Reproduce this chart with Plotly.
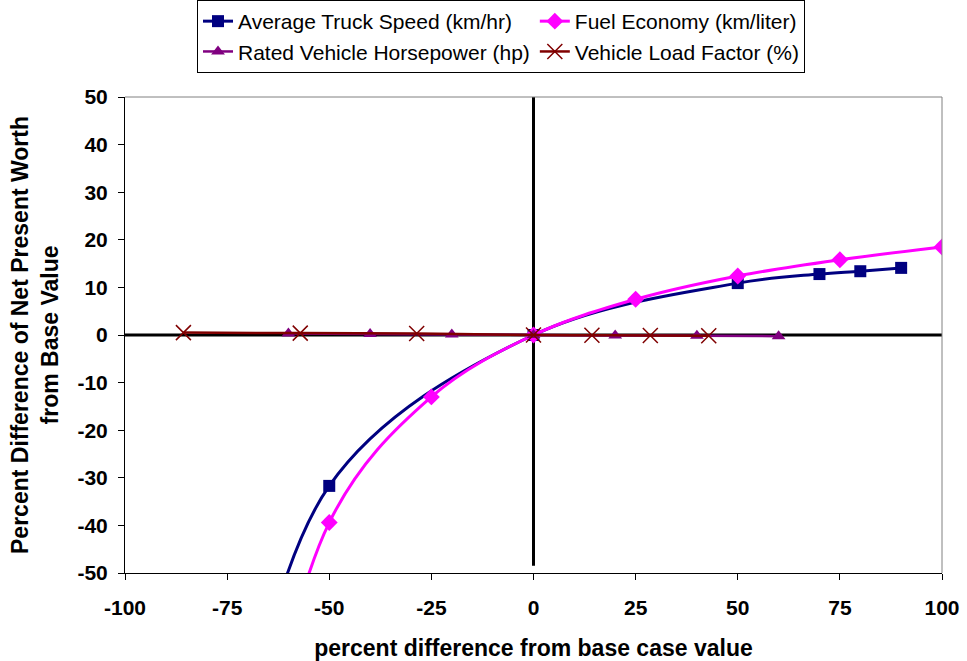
import plotly.graph_objects as go

# Sensitivity of net present worth to changes in each input
speed_x = [-75, -50, 0, 50, 70, 80, 90]
speed_y = [-105, -31.7, 0, 10.9, 12.8, 13.4, 14.1]

fuel_x = [-75, -50, -25, 0, 25, 50, 75, 100]
fuel_y = [-130, -39.4, -13.0, 0, 7.5, 12.4, 15.8, 18.5]

hp_x = [-60, -40, -20, 0, 20, 40, 60]
hp_y = [0.3, 0.2, 0.1, 0, -0.1, -0.15, -0.25]

load_x = [-85.7, -57.1, -28.6, 0, 14.3, 28.6, 42.9]
load_y = [0.5, 0.4, 0.3, 0, -0.05, -0.1, -0.15]

# Cross-hair lines through the base case
cross_h_x = [-100, 100]
cross_h_y = [0, 0]
cross_v_x = [0, 0]
cross_v_y = [50, -48.5]

x_ticks = [-100, -75, -50, -25, 0, 25, 50, 75, 100]
y_ticks = [50, 40, 30, 20, 10, 0, -10, -20, -30, -40, -50]

FONT = "Liberation Sans, Arial, sans-serif"

fig = go.Figure()

fig.add_trace(go.Scatter(x=cross_h_x, y=cross_h_y, mode="lines",
                         line=dict(color="black", width=3), showlegend=False,
                         hoverinfo="skip"))
fig.add_trace(go.Scatter(x=cross_v_x, y=cross_v_y, mode="lines",
                         line=dict(color="black", width=3), showlegend=False,
                         hoverinfo="skip"))

fig.add_trace(go.Scatter(
    x=speed_x, y=speed_y, name="Average Truck Speed (km/hr)",
    mode="lines+markers", line=dict(color="#000080", width=3, shape="spline"),
    marker=dict(symbol="square", size=12, color="#000080")))
fig.add_trace(go.Scatter(
    x=fuel_x, y=fuel_y, name="Fuel Economy (km/liter)",
    mode="lines+markers", line=dict(color="#FF00FF", width=3, shape="spline"),
    marker=dict(symbol="diamond", size=13, color="#FF00FF")))
fig.add_trace(go.Scatter(
    x=hp_x, y=hp_y, name="Rated Vehicle Horsepower (hp)",
    mode="lines+markers", line=dict(color="#800080", width=2.5, shape="spline"),
    marker=dict(symbol="triangle-up", size=12, color="#800080")))
fig.add_trace(go.Scatter(
    x=load_x, y=load_y, name="Vehicle Load Factor (%)",
    mode="lines+markers", line=dict(color="#800000", width=2.5, shape="spline"),
    marker=dict(symbol="x-thin-open", size=15, color="#800000",
                line=dict(color="#800000", width=1.5))))

fig.update_layout(
    width=967, height=661,
    margin=dict(l=125, r=25, t=97, b=88, autoexpand=False),
    paper_bgcolor="white", plot_bgcolor="white",
    font=dict(family=FONT, color="black"),
    showlegend=True,
    legend=dict(
        orientation="h", xref="container", x=197 / 967, xanchor="left",
        yref="container", y=1.0, yanchor="top",
        bordercolor="black", borderwidth=1, bgcolor="white",
        font=dict(family=FONT, size=21), itemwidth=30,
    ),
    xaxis=dict(
        range=[-100, 100], tickvals=x_ticks, ticktext=[str(v) for v in x_ticks],
        showgrid=False, zeroline=False, showline=True, linecolor="black",
        linewidth=1, ticks="outside", ticklen=6, tickcolor="black",
        ticklabelstandoff=10, automargin=False,
        tickfont=dict(family=FONT, size=21, color="black", weight="bold"),
        title=dict(text="<b>percent difference from base case value</b>",
                   font=dict(family=FONT, size=23), standoff=22),
    ),
    yaxis=dict(
        range=[-50, 50], tickvals=y_ticks, ticktext=[str(v) for v in y_ticks],
        showgrid=False, zeroline=False, showline=True, linecolor="black",
        linewidth=1, ticks="outside", ticklen=6, tickcolor="black",
        ticklabelstandoff=6, automargin=False,
        tickfont=dict(family=FONT, size=21, color="black", weight="bold"),
        title=dict(text="<b>Percent Difference of Net Present Worth<br>from Base Value</b>",
                   font=dict(family=FONT, size=23), standoff=12),
    ),
    shapes=[
        dict(type="line", xref="paper", yref="paper", x0=0, x1=1, y0=1, y1=1,
             line=dict(color="#808080", width=1)),
        dict(type="line", xref="paper", yref="paper", x0=1, x1=1, y0=0, y1=1,
             line=dict(color="#808080", width=1)),
    ],
)

fig.write_html("out.html")
